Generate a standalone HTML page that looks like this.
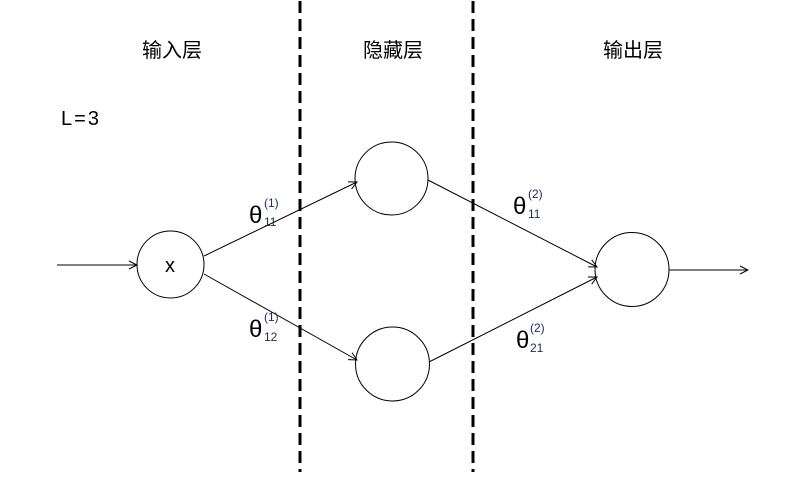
<!DOCTYPE html>
<html><head><meta charset="utf-8"><style>
body{margin:0;background:#fff}
svg text{font-family:"Liberation Sans","Noto Sans CJK SC",sans-serif}
</style></head><body>
<svg width="803" height="472" viewBox="0 0 803 472" xmlns="http://www.w3.org/2000/svg">
<defs><marker id="a" markerWidth="10" markerHeight="10" refX="9" refY="5" orient="auto" markerUnits="userSpaceOnUse"><path d="M1,1 L9,5 L1,9" fill="none" stroke="#000" stroke-width="1"/></marker></defs>
<g stroke="#000" stroke-width="3" stroke-dasharray="12 6"><line x1="300" y1="1" x2="300" y2="472"/><line x1="473" y1="1" x2="473" y2="472"/></g>
<g fill="none" stroke="#000" stroke-width="1">
<circle cx="170.5" cy="264.5" r="33.5"/>
<circle cx="391.5" cy="178.5" r="36.5"/>
<circle cx="392.5" cy="364" r="37"/>
<circle cx="632" cy="269.5" r="37"/>
<line x1="57" y1="265" x2="137" y2="265" marker-end="url(#a)"/>
<line x1="204" y1="256" x2="357" y2="182" marker-end="url(#a)"/>
<line x1="204" y1="274" x2="357" y2="360" marker-end="url(#a)"/>
<line x1="428" y1="180" x2="597" y2="267" marker-end="url(#a)"/>
<line x1="429" y1="362" x2="597" y2="277" marker-end="url(#a)"/>
<line x1="669" y1="270" x2="748" y2="270" marker-end="url(#a)"/>
</g>
<g font-size="20" text-anchor="middle" fill="#000">
<text x="172" y="57">输入层</text><text x="393" y="57">隐藏层</text><text x="633" y="57">输出层</text>
</g>
<text x="61" y="125" font-size="20" letter-spacing="1">L<tspan dx="1">=</tspan><tspan dx="1">3</tspan></text>
<text x="170" y="272" font-size="20" text-anchor="middle">x</text>
<g font-size="24"><text x="249" y="223">θ</text><text x="249" y="337">θ</text><text x="513" y="214">θ</text><text x="516" y="348">θ</text></g>
<g font-size="12" fill="#1a2a5a">
<text x="264" y="207">(1)</text><text x="264" y="226">11</text>
<text x="264" y="321">(1)</text><text x="264" y="341">12</text>
<text x="528" y="198">(2)</text><text x="528" y="218">11</text>
<text x="530" y="332">(2)</text><text x="530" y="352">21</text>
</g>
</svg>
</body></html>
